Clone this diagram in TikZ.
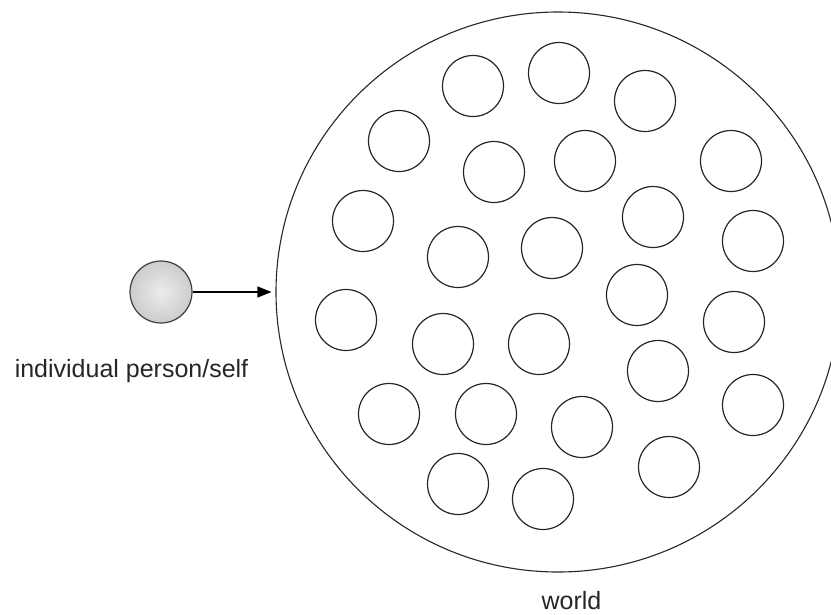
\documentclass[tikz,border=0pt]{standalone}
\usepackage{fontspec}
\setmainfont{Liberation Sans}
\usetikzlibrary{arrows.meta,shapes.geometric}
\begin{document}
\begin{tikzpicture}[x=1pt,y=-1pt,
  small/.style={circle,draw=black!85,line width=1.2pt,minimum size=61pt,inner sep=0pt},
  worldc/.style={ellipse,draw=black!85,line width=1.1pt,minimum width=564pt,minimum height=560pt,inner sep=0pt},
  persc/.style={circle,draw=black!75,line width=1.2pt,minimum size=62pt,inner sep=0pt,inner color=gray!15,outer color=gray!40},
  lbl/.style={font=\fontsize{25}{29}\selectfont,text=black!85}]
\path[use as bounding box] (0,0) rectangle (831,614);
\node[worldc] (world) at (558,292) {};
\foreach \n/\x/\y in {1/473/86,2/559/73,3/645/101,4/399/141,5/494/172,6/585/161,7/731/161,
  8/363/221,9/653/217,10/458/257,11/552/248,12/753/241,13/637/295,14/346/320,15/443/344,
  16/539/344,17/734/322,18/658/371,19/389/414,20/486/414,21/582/427,22/753/405,
  23/458/484,24/543/499,25/669/467}
  \node[small] (c\n) at (\x,\y) {};
\node[persc] (person) at (161,292) {};
\draw[line width=1.1pt,-{Triangle[length=14pt,width=11pt]}] (person) -- ([xshift=-4pt]world.west);
\node[lbl] (plabel) at (131.5,371) {individual person/self};
\node[lbl] (wlabel) at (571.5,601) {world};
\end{tikzpicture}
\end{document}
